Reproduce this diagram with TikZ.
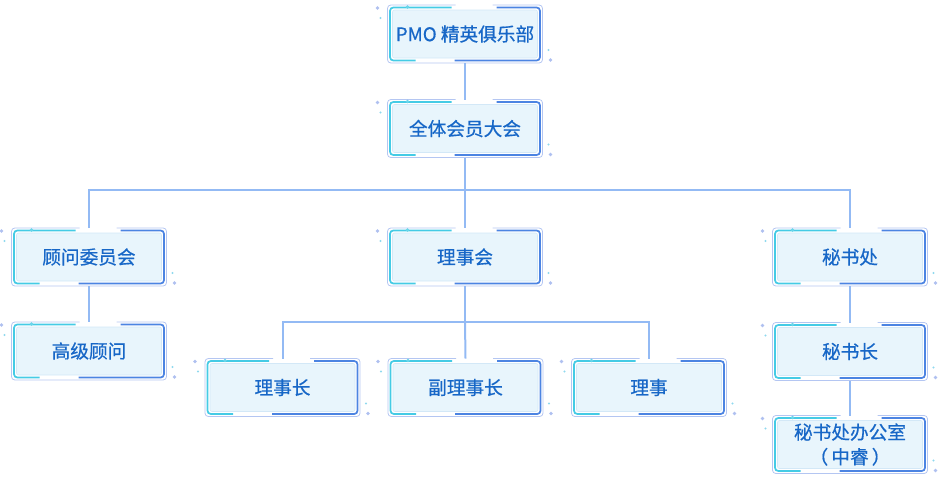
\documentclass[tikz,border=0pt]{standalone}
\usepackage{fontspec}
\newfontfamily\cjk{Noto Sans CJK SC}[FakeBold=0.6]
\usetikzlibrary{calc,backgrounds}
\definecolor{txt}{HTML}{1767C7}
\definecolor{fillc}{HTML}{E8F5FC}
\definecolor{innerl}{HTML}{D3E8F7}
\definecolor{lav}{HTML}{B4C6F2}
\definecolor{cyanacc}{HTML}{45CBE5}
\definecolor{blueacc}{HTML}{4C84E2}
\definecolor{linec}{HTML}{93BAF4}
\definecolor{dotl}{HTML}{AFC0F0}
\definecolor{dotc}{HTML}{8FD9EE}
\tikzset{
  orgnode/.style={minimum width=116.25pt, minimum height=43.5pt, inner sep=0pt, outer sep=0pt,
    align=center, text=txt, font=\cjk\fontsize{14}{18.5}\selectfont},
  conn/.style={draw=linec, line width=1.5pt},
  lavframe/.style={draw=lav, line width=0.6pt, rounded corners=2.5pt},
  cyanstroke/.style={draw=cyanacc, line width=1.3pt, rounded corners=2.5pt},
  bluestroke/.style={draw=blueacc, line width=1.3pt, rounded corners=2.5pt}
}
\newcommand\orgdeco[1]{%
  \begin{pgfonlayer}{background}
    \fill[fillc, draw=innerl, line width=0.4pt, rounded corners=1.5pt]
      ($(#1.north west)+(5,5)$) rectangle ($(#1.south east)+(-5,-5)$);
    \draw[lavframe] ($(#1.north west)+(68,0)$) -- (#1.north west) -- (#1.south west)
      -- (#1.south east) -- (#1.north east) -- ($(#1.north east)+(-50,0)$);
    \draw[cyanstroke] ($(#1.north west)+(64,2.5)$) -- ($(#1.north west)+(2.5,2.5)$)
      -- ($(#1.south west)+(2.5,-2.5)$) -- ($(#1.south west)+(28,-2.5)$);
    \draw[bluestroke] ($(#1.north east)+(-46,2.5)$) -- ($(#1.north east)+(-2.5,2.5)$)
      -- ($(#1.south east)+(-2.5,-2.5)$) -- ($(#1.south east)+(-88,-2.5)$);
    \fill[dotl] ($(#1.north west)+(-10,3)$) circle (1.4pt);
    \fill[dotc] ($(#1.north west)+(-7,13)$) circle (0.8pt);
    \fill[cyanacc!80] ($(#1.north west)+(20,2)$) circle (1.4pt);
    \fill[dotl] ($(#1.south east)+(8,-3)$) circle (1.4pt);
    \fill[dotc] ($(#1.south east)+(6,-13)$) circle (0.8pt);
  \end{pgfonlayer}}
\newcommand\orgbox[4]{%
  \node[orgnode] (#1) at (#2,#3) {#4};
  \orgdeco{#1}}
\begin{document}
\begin{tikzpicture}[x=0.75pt, y=-0.75pt]
\useasboundingbox (0,0) rectangle (938,497);
\orgbox{pmo}{465}{34}{PMO 精英俱乐部}
\orgbox{all}{465}{128.5}{全体会员大会}
\orgbox{guwen}{89}{257}{顾问委员会}
\orgbox{lsh}{465}{257}{理事会}
\orgbox{msc}{850}{257}{秘书处}
\orgbox{gaoji}{89}{351}{高级顾问}
\orgbox{lsz}{282.5}{387.5}{理事长}
\orgbox{flsz}{465.5}{387.5}{副理事长}
\orgbox{ls}{649}{387.5}{理事}
\orgbox{msz}{850}{351.5}{秘书长}
\orgbox{bgs}{850}{444.5}{秘书处办公室\\（\,中睿\,）}
\coordinate (bus1) at (465,190);
\coordinate (bus2) at (465,322);
\draw[conn] (pmo.south) -- (all.north);
\draw[conn] (all.south) -- (bus1);
\draw[conn] (guwen.north) |- (bus1) -| (msc.north);
\draw[conn] (bus1) -- (lsh.north);
\draw[conn] (guwen.south) -- (gaoji.north);
\draw[conn] (lsh.south) -- (bus2);
\draw[conn] (lsz.north) |- (bus2) -| (ls.north);
\draw[conn] (bus2) -- (flsz.north);
\draw[conn] (msc.south) -- (msz.north);
\draw[conn] (msz.south) -- (bgs.north);
\end{tikzpicture}
\end{document}
